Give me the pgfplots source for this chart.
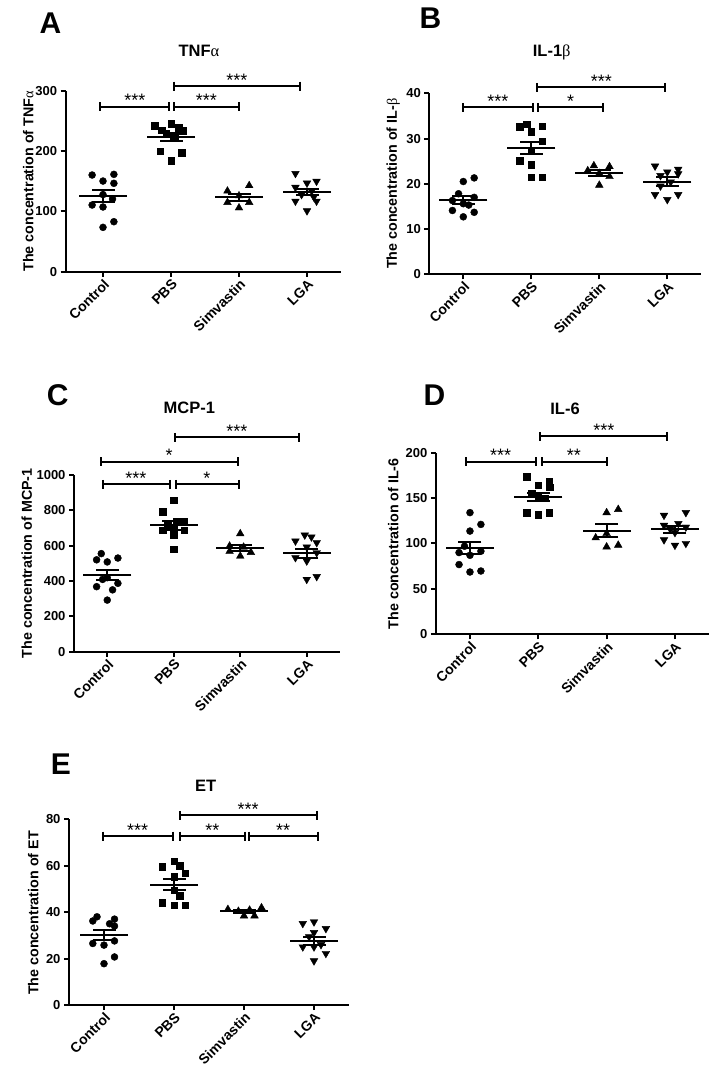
\documentclass[border=0pt]{standalone}
\usepackage{pgfplots}
\pgfplotsset{compat=1.18}
\usepackage{fontspec}
\setmainfont{Liberation Sans}
\newfontfamily\grk{Liberation Serif}
\tikzset{
  stars/.style={anchor=base, inner sep=0pt, font=\fontsize{18}{18}\selectfont},
  ttl/.style={anchor=base, inner sep=0pt, font=\bfseries\fontsize{16.5}{16.5}\selectfont},
  lett/.style={anchor=base west, inner sep=0pt, font=\bfseries\fontsize{30}{30}\selectfont},
  ylab/.style={rotate=90, anchor=center, inner sep=0pt, font=\bfseries\fontsize{14.3}{14.3}\selectfont},
}
\pgfplotsset{
  prism/.style={scale only axis, anchor=south west, axis lines=left,
    axis line style={-, line width=2pt}, clip=false,
    xmin=-0.5, xmax=3.5, ymin=0,
    xtick={0,1,2,3}, xticklabels={Control,PBS,Simvastin,LGA},
    tick align=outside, major tick length=5pt,
    tick style={black, line width=2pt},
    xticklabel style={rotate=45, anchor=north east, inner sep=1pt, font=\bfseries\fontsize{14}{14}\selectfont},
    yticklabel style={font=\bfseries\fontsize{13}{13}\selectfont},
    /pgf/number format/assume math mode=true,
    /pgf/number format/1000 sep={}},
  circ/.style={only marks, black, mark=*, mark size=3.5pt},
  sqr/.style={only marks, black, mark=square*, mark size=3.3pt},
  tri/.style={only marks, black, mark=triangle*, mark size=4.4pt},
  itri/.style={only marks, black, mark=triangle*, mark size=4.4pt, mark options={rotate=180}},
  mean/.style={only marks, black, mark=-, mark size=24pt, mark options={line width=2pt}},
  sem/.style={black, line width=2pt, mark=-, mark size=11.5pt, mark options={line width=2pt}},
  brk/.style={black, line width=2pt, mark=|, mark size=4.5pt, mark options={line width=2pt}},
}
\begin{document}
\begin{tikzpicture}
\useasboundingbox (0pt,0pt) rectangle (719pt,1076pt);

% ---------------- A: TNF alpha
\begin{axis}[prism, at={(65.6pt,804.3pt)}, width=275.4pt, height=180.7pt,
  xmin=-0.55, ymax=300, ytick={0,100,200,300}]
\addplot[circ] coordinates {(-0.16,160.5) (0.16,161.6) (0,150.5) (0.16,146.7) (-0.16,110.7) (0,107.4) (0.14,120.7) (0.16,83) (0,73.6) (0,128)};
\addplot[sqr] coordinates {(0.76,242) (1,246) (1.11,239) (0.86,235) (1.17,234) (0.93,229) (1.05,226) (0.84,200) (1.16,198) (1,184)};
\addplot[tri] coordinates {(1.83,134) (2.15,143) (2,126) (1.83,115) (2.15,115) (2,106)};
\addplot[itri] coordinates {(2.83,163) (3,147) (3.14,150) (2.83,140) (3.07,134) (2.92,128) (2.83,117) (3.14,117) (3,101) (3.1,124)};
\addplot[mean] coordinates {(0,125.6) (1,224) (2,123.5) (3,131.7)};
\addplot[sem] coordinates {(0,115.6) (0,135.6)};
\addplot[sem] coordinates {(1,217.5) (1,230.5)};
\addplot[sem] coordinates {(2,118) (2,129)};
\addplot[sem] coordinates {(3,126.7) (3,136.7)};
\addplot[brk] coordinates {(-0.04,274) (0.97,274)};
\addplot[brk] coordinates {(1.05,274) (2.0,274)};
\addplot[brk] coordinates {(1.05,308) (2.89,308)};
\node[stars] at (axis cs:0.47,274) {***};
\node[stars] at (axis cs:1.52,274) {***};
\node[stars] at (axis cs:1.97,308) {***};
\end{axis}

% ---------------- B: IL-1 beta
\begin{axis}[prism, at={(429.3pt,801.7pt)}, width=272pt, height=181pt,
  ymax=40, ytick={0,10,20,30,40}]
\addplot[circ] coordinates {(0,20.5) (0.16,21.3) (-0.07,17.8) (0.16,17.0) (-0.16,16.3) (0,15.6) (-0.16,14.1) (0.16,13.7) (0,12.7) (0.08,15.3)};
\addplot[sqr] coordinates {(0.83,32.6) (0.93,33.2) (1,31.5) (1.16,32.7) (1.16,29.4) (1,27.2) (0.83,25.1) (1,24.2) (1,21.5) (1.16,21.5)};
\addplot[tri] coordinates {(1.92,24.0) (2.15,23.8) (1.83,22.9) (2,22.3) (2.15,21.6) (2,19.7)};
\addplot[itri] coordinates {(2.82,23.9) (3,22.6) (3.16,23.2) (3.16,22.2) (2.9,21.8) (3.05,20.4) (2.82,17.6) (3,16.5) (3.16,17.6) (2.9,19.5)};
\addplot[mean] coordinates {(0,16.4) (1,27.9) (2,22.4) (3,20.5)};
\addplot[sem] coordinates {(0,15.55) (0,17.25)};
\addplot[sem] coordinates {(1,26.5) (1,29.3)};
\addplot[sem] coordinates {(2,21.8) (2,23.0)};
\addplot[sem] coordinates {(3,19.6) (3,21.4)};
\addplot[brk] coordinates {(0,36.9) (1.02,36.9)};
\addplot[brk] coordinates {(1.1,36.9) (2.06,36.9)};
\addplot[brk] coordinates {(1.09,41.3) (2.96,41.3)};
\node[stars] at (axis cs:0.51,36.9) {***};
\node[stars] at (axis cs:1.58,36.9) {*};
\node[stars] at (axis cs:2.03,41.3) {***};
\end{axis}

% ---------------- C: MCP-1
\begin{axis}[prism, at={(74pt,424.3pt)}, width=266pt, height=176.7pt,
  ymax=1000, ytick={0,200,400,600,800,1000}]
\addplot[circ] coordinates {(-0.09,555) (0.16,530) (0,508) (-0.16,520) (0,419) (-0.16,368) (0.16,387) (-0.07,409) (0,292) (0.08,350)};
\addplot[sqr] coordinates {(1,858) (0.83,792) (1.16,736) (1.04,736) (0.91,717) (0.83,687) (1.16,687) (1,660) (1,702) (1,579)};
\addplot[tri] coordinates {(2,668) (1.84,598) (2.05,592) (1.84,568) (2.16,562) (2,541)};
\addplot[itri] coordinates {(2.97,660) (3.07,649) (2.83,626) (3.15,617) (3,592) (3.15,560) (2.83,532) (3,513) (3,409) (3.15,425)};
\addplot[mean] coordinates {(0,434) (1,715) (2,589) (3,556)};
\addplot[sem] coordinates {(0,407) (0,461)};
\addplot[sem] coordinates {(1,689) (1,741)};
\addplot[sem] coordinates {(2,572) (2,606)};
\addplot[sem] coordinates {(3,528) (3,584)};
\addplot[brk] coordinates {(-0.07,947) (0.94,947)};
\addplot[brk] coordinates {(1.03,947) (1.98,947)};
\addplot[brk] coordinates {(-0.09,1075) (1.96,1075)};
\addplot[brk] coordinates {(1.02,1213) (2.89,1213)};
\node[stars] at (axis cs:0.43,947) {***};
\node[stars] at (axis cs:1.5,947) {*};
\node[stars] at (axis cs:0.93,1075) {*};
\node[stars] at (axis cs:1.95,1213) {***};
\end{axis}

% ---------------- D: IL-6
\begin{axis}[prism, at={(435.8pt,441.7pt)}, width=273.3pt, height=181.6pt,
  ymax=200, ytick={0,50,100,150,200}]
\addplot[circ] coordinates {(0,134) (0.16,121) (0,113.7) (-0.08,97) (-0.16,90) (0.16,91.5) (0,87) (-0.16,76.8) (0,68.6) (0.16,69.7)};
\addplot[sqr] coordinates {(0.83,173.6) (1.16,168) (1,164.4) (1.17,162) (0.9,155) (1,152) (1.1,150) (0.83,134) (1,131.7) (1.16,134)};
\addplot[tri] coordinates {(2,134) (2.17,137.6) (1.84,106.3) (2,111) (2,96.3) (2.17,98.2)};
\addplot[itri] coordinates {(2.84,131) (3.16,134) (2.84,120) (3.05,122) (2.93,116) (3.16,118) (2.84,104) (3,98) (3.16,100) (3,112)};
\addplot[mean] coordinates {(0,95) (1,151) (2,114) (3,115.6)};
\addplot[sem] coordinates {(0,88.4) (0,101.6)};
\addplot[sem] coordinates {(1,146.7) (1,155.3)};
\addplot[sem] coordinates {(2,106.8) (2,121.2)};
\addplot[sem] coordinates {(3,111.6) (3,119.6)};
\addplot[brk] coordinates {(-0.06,190) (0.96,190)};
\addplot[brk] coordinates {(1.05,190) (2.0,190)};
\addplot[brk] coordinates {(1.03,218) (2.89,218)};
\node[stars] at (axis cs:0.45,190) {***};
\node[stars] at (axis cs:1.52,190) {**};
\node[stars] at (axis cs:1.96,218) {***};
\end{axis}

% ---------------- E: ET
\begin{axis}[prism, at={(69pt,71pt)}, width=280pt, height=185.7pt,
  ymax=80, ytick={0,20,40,60,80}]
\addplot[circ] coordinates {(-0.1,38) (0.15,37) (-0.16,36.2) (0.08,35) (0.15,34) (-0.16,26.5) (0,25.8) (0.15,27.6) (0.15,20.7) (0,17.8)};
\addplot[sqr] coordinates {(1,62) (0.83,59.6) (1.08,59.9) (1.16,56.7) (1,55.3) (1,49.5) (1.08,47) (0.83,44.2) (1,43) (1.16,43)};
\addplot[tri] coordinates {(1.77,41.2) (1.92,40.4) (2,38.4) (2.08,40.9) (2.15,38.4) (2.25,41.9)};
\addplot[itri] coordinates {(2.84,35.1) (3,35.8) (3.17,32.9) (3,31.2) (2.93,29.4) (2.84,25) (3,25) (3.17,22.2) (3,19) (3.1,26)};
\addplot[mean] coordinates {(0,30.1) (1,51.9) (2,40.3) (3,27.6)};
\addplot[sem] coordinates {(0,27.8) (0,32.4)};
\addplot[sem] coordinates {(1,49.4) (1,54.4)};
\addplot[sem] coordinates {(2,39.8) (2,40.8)};
\addplot[sem] coordinates {(3,25.8) (3,29.4)};
\addplot[brk] coordinates {(-0.02,72.8) (0.98,72.8)};
\addplot[brk] coordinates {(1.08,72.8) (2.02,72.8)};
\addplot[brk] coordinates {(2.07,72.8) (3.05,72.8)};
\addplot[brk] coordinates {(1.08,81.7) (3.04,81.7)};
\node[stars] at (axis cs:0.48,72.8) {***};
\node[stars] at (axis cs:1.55,72.8) {**};
\node[stars] at (axis cs:2.56,72.8) {**};
\node[stars] at (axis cs:2.06,81.7) {***};
\end{axis}

% ---------------- titles, letters, y labels
\node[ttl] at (199pt,1019pt) {TNF{\grk\mdseries α}};
\node[ttl] at (551.7pt,1019pt) {IL-1{\grk\mdseries β}};
\node[ttl] at (189.3pt,662.7pt) {MCP-1};
\node[ttl] at (565pt,661pt) {IL-6};
\node[ttl] at (205.7pt,284.3pt) {ET};

\node[lett] at (39.3pt,1042.7pt) {A};
\node[lett] at (419.3pt,1047.7pt) {B};
\node[lett] at (46.7pt,670pt) {C};
\node[lett] at (423.3pt,670pt) {D};
\node[lett] at (50.7pt,301pt) {E};

\node[ylab] at (28.3pt,894.6pt) {The concentration of TNF{\grk\mdseries α}};
\node[ylab] at (393.3pt,892.2pt) {The concentration of IL-{\grk\mdseries β}};
\node[ylab] at (26.7pt,512.7pt) {The concentration of MCP-1};
\node[ylab] at (393.3pt,532.2pt) {The concentration of IL-6};
\node[ylab] at (33.3pt,163pt) {The concentration of ET};
\end{tikzpicture}
\end{document}
